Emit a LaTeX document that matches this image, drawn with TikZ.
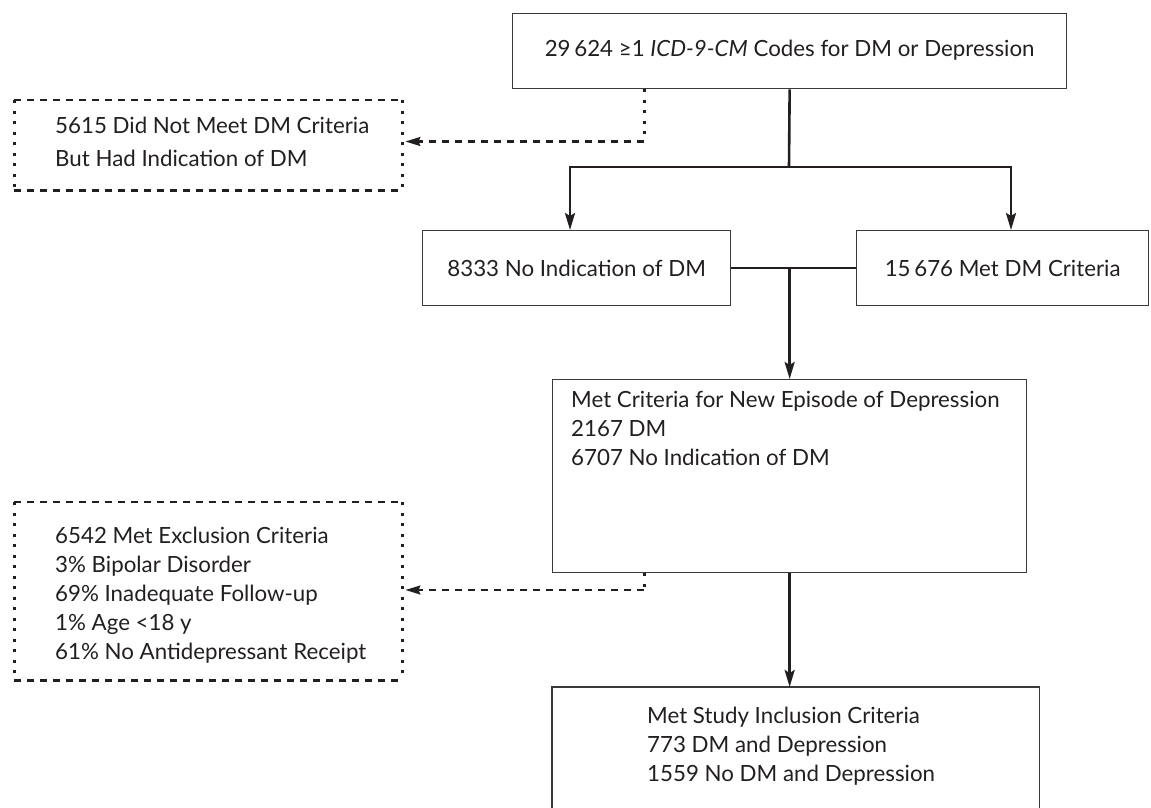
\documentclass[tikz,border=0pt]{standalone}
\usepackage{fontspec}
\setmainfont{Lato}
\usetikzlibrary{arrows.meta,calc}
\definecolor{ink}{HTML}{231F20}
\definecolor{edge}{HTML}{3A3A3A}
\begin{document}
\begin{tikzpicture}[x=1pt,y=-1pt,
  box/.style={draw=edge, line width=1.3pt, inner sep=0pt, anchor=north west},
  hole/.style={inner sep=0pt, anchor=north west},
  txt/.style={inner sep=0pt, text=ink, font=\fontsize{22.3}{29}\selectfont, align=left},
  wide/.style={font=\fontsize{22.3}{33}\selectfont},
  link/.style={draw=ink, line width=2.6pt},
  arr/.style={link, -{Stealth[length=17pt,width=10pt,inset=3pt]}},
  hdash/.style={draw=ink, line width=2.2pt, dash pattern=on 7pt off 6pt},
  vdot/.style={draw=ink, line width=3pt, dash pattern=on 3pt off 7.5pt},
  darr/.style={hdash, -{Stealth[length=15pt,width=9pt,inset=2pt]}},
  rim/.style={draw=edge, line width=1.3pt}
]
\useasboundingbox (0,0) rectangle (1151,807);
\fill[white] (0,0) rectangle (1151,807);

% solid boxes
\node[box, minimum width=554pt, minimum height=75pt] (top) at (512,13) {};
\node[txt, anchor=center] (topt) at ($(top.center)+(0,-1)$) {29\,624 ≥1 \textit{ICD-9-CM} Codes for DM or Depression};

\node[box, minimum width=308pt, minimum height=75pt] (lbox) at (422,230) {};
\node[txt, anchor=center] (lboxt) at (lbox.center) {8333 No Indication of DM};

\node[box, minimum width=292pt, minimum height=75pt] (rbox) at (856,230) {};
\node[txt, anchor=center] (rboxt) at (rbox.center) {15\,676 Met DM Criteria};

\node[box, minimum width=474pt, minimum height=193pt] (mid) at (552,379) {};
\node[txt, anchor=west] (midt) at (571,428) {Met Criteria for New Episode of Depression\\2167 DM\\6707 No Indication of DM};

\node[hole, minimum width=487pt, minimum height=130pt] (bot) at (552,687) {};
\draw[rim] (bot.south west) -- (bot.north west) -- (bot.north east) -- (bot.south east);
\node[txt, anchor=west] (bott) at (647,746) {Met Study Inclusion Criteria\\773 DM and Depression\\1559 No DM and Depression};

% dotted boxes
\node[hole, minimum width=388pt, minimum height=90pt] (b1) at (14,100) {};
\draw[hdash] (b1.north west) -- (b1.north east);
\draw[hdash] (b1.south west) -- (b1.south east);
\draw[vdot] (b1.north west) -- (b1.south west);
\draw[vdot] (b1.north east) -- (b1.south east);
\node[txt, wide, anchor=west] (b1t) at (55,142) {5615 Did Not Meet DM Criteria\\But Had Indication of DM};

\node[hole, minimum width=388pt, minimum height=178pt] (b2) at (14,502) {};
\draw[hdash] (b2.north west) -- (b2.north east);
\draw[hdash] (b2.south west) -- (b2.south east);
\draw[vdot] (b2.north west) -- (b2.south west);
\draw[vdot] (b2.north east) -- (b2.south east);
\node[txt, anchor=west] (b2t) at (55,595) {6542 Met Exclusion Criteria\\3\% Bipolar Disorder\\69\% Inadequate Follow-up\\1\% Age <18 y\\61\% No Antidepressant Receipt};

% solid connectors
\coordinate (j1) at (789,167);
\coordinate (la) at (570,167);
\coordinate (ra) at (1011,167);
\draw[link] (top.south) -- (j1);
\draw[arr] (j1) -- (la) -- (la |- lbox.north);
\draw[arr] (j1) -- (ra) -- (ra |- rbox.north);
\draw[link] (lbox.east) -- (rbox.west);
\draw[arr] (lbox.east -| mid.north) -- (mid.north);
\draw[arr] (mid.south) -- (mid.south |- bot.north);

% dotted connectors
\coordinate (d1) at (644,141.5);
\draw[vdot] (top.south -| d1) -- (d1);
\draw[darr] (d1) -- ($(d1 -| b1.east)+(3,0)$);
\coordinate (d2) at (644,590);
\draw[vdot] (mid.south -| d2) -- (d2);
\draw[darr] (d2) -- ($(d2 -| b2.east)+(3,0)$);
\end{tikzpicture}
\end{document}
